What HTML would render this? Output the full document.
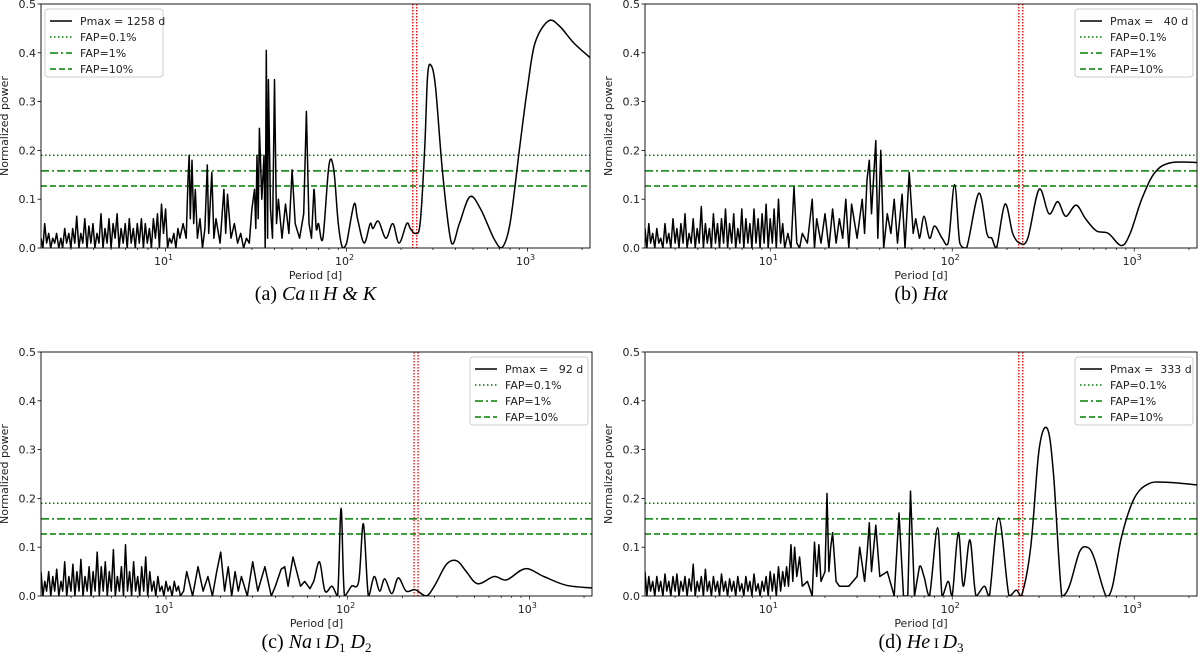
<!DOCTYPE html>
<html><head><meta charset="utf-8"><style>
body{margin:0;background:#fff;width:1200px;height:665px;overflow:hidden}
svg text{font-family:"DejaVu Sans","Liberation Sans",sans-serif}
.cap{font-family:"Liberation Serif","DejaVu Serif",serif;font-size:20px}
.leg{white-space:pre}
</style></head><body>
<svg id="fig" width="1200" height="665" xmlns="http://www.w3.org/2000/svg"></svg>
<script>
const noiseP=[2.05,2.1,2.15,2.2,2.26,2.32,2.38,2.44,2.5,2.57,2.64,2.7,2.77,2.84,2.92,3.0,3.07,3.15,3.23,3.32,3.4,3.49,3.58,3.68,3.77,3.87,3.97,4.07,4.18,4.29,4.4,4.51,4.63,4.75,4.87,5.0,5.13,5.26,5.4,5.54,5.68,5.83,5.98,6.14,6.3,6.46,6.63,6.8,6.98,7.16,7.35,7.54,7.73,7.93,8.14,8.35,8.57,8.79,9.02,9.25,9.49,9.74,10.0,10.26,10.5,10.8,11.1,11.4,11.7,12.0];
const noiseA=[0.02,0.0,0.05,0.01,0.03,0.0,0.02,0.01,0.03,0.0,0.02,0.0,0.04,0.01,0.03,0.0,0.04,0.01,0.065,0.0,0.03,0.01,0.06,0.0,0.045,0.01,0.05,0.0,0.03,0.01,0.07,0.0,0.04,0.01,0.06,0.0,0.05,0.02,0.07,0.0,0.04,0.01,0.05,0.0,0.06,0.01,0.04,0.0,0.05,0.01,0.06,0.0,0.05,0.01,0.04,0.0,0.06,0.02,0.07,0.0,0.09,0.03,0.08,0.0,0.02,0.01,0.03,0.0,0.04,0.02];
const noiseB=[0.04,0.0,0.05,0.01,0.03,0.0,0.04,0.01,0.02,0.0,0.05,0.01,0.03,0.0,0.06,0.01,0.04,0.0,0.05,0.01,0.07,0.0,0.03,0.01,0.06,0.0,0.04,0.01,0.085,0.0,0.05,0.01,0.04,0.0,0.07,0.01,0.05,0.0,0.06,0.01,0.08,0.0,0.05,0.01,0.07,0.0,0.04,0.01,0.08,0.0,0.06,0.01,0.05,0.0,0.08,0.01,0.06,0.0,0.07,0.01,0.09,0.0,0.06,0.01,0.08,0.0,0.1,0.01,0.05,0.0];
const noiseC=[0.05,0.0,0.03,0.01,0.05,0.0,0.04,0.01,0.055,0.0,0.03,0.01,0.07,0.0,0.04,0.01,0.065,0.0,0.05,0.01,0.075,0.0,0.04,0.01,0.06,0.0,0.05,0.01,0.09,0.0,0.06,0.01,0.07,0.0,0.05,0.01,0.095,0.0,0.04,0.01,0.06,0.0,0.105,0.01,0.05,0.0,0.07,0.01,0.04,0.0,0.06,0.01,0.08,0.0,0.05,0.01,0.03,0.0,0.04,0.01,0.02,0.0,0.03,0.01,0.02,0.0,0.03,0.01,0.02,0.0];
const noiseD=[0.05,0.0,0.04,0.01,0.03,0.0,0.04,0.01,0.03,0.0,0.045,0.01,0.03,0.0,0.04,0.01,0.045,0.0,0.03,0.01,0.04,0.0,0.035,0.01,0.065,0.0,0.03,0.01,0.04,0.0,0.055,0.01,0.03,0.0,0.04,0.01,0.03,0.0,0.045,0.01,0.03,0.0,0.035,0.01,0.03,0.0,0.04,0.01,0.025,0.0,0.04,0.01,0.03,0.0,0.045,0.01,0.025,0.0,0.03,0.01,0.04,0.0,0.05,0.01,0.045,0.0,0.06,0.01,0.05,0.02];
const tailA=[[12.5,0.05],[13,0.02],[13.3,0.14],[13.5,0.19],[13.7,0.06],[14,0.18],[14.3,0.05],[14.6,0.12],[15,0.02],[15.5,0.06],[16,0.0],[16.5,0.04],[17,0.17],[17.3,0.03],[18,0.155],[18.5,0.02],[19,0.06],[20,0.01],[21,0.12],[21.5,0.03],[22,0.11],[23,0.02],[24,0.05],[25,0.01],[26,0.03],[27,0.0],[28,0.02],[29,0.01],[30,0.08],[31,0.12],[31.5,0.04],[32,0.19],[32.5,0.06],[33,0.245],[34,0.1],[35,0.19],[35.5,0.0],[36,0.405],[36.6,0.02],[37,0.345],[38,0.08],[39,0.02],[40,0.345],[41,0.05],[42,0.1],[44,0.02],[46,0.09],[48,0.03],[50,0.16],[52,0.05],[55,0.02],[58,0.07],[60,0.28],[62,0.05],[64,0.02],[66,0.12],[68,0.04],[70,0.05],[74,0.02],[80,0.17],[85,0.16],[90,0.05],[95,0.0],[100,0.01],[110,0.09],[115,0.06],[125,0.01],[135,0.05],[140,0.04],[150,0.055],[165,0.02],[180,0.05],[195,0.01],[215,0.05],[225,0.04],[240,0.03],[255,0.05],[270,0.2],[280,0.35],[292,0.375],[310,0.33],[340,0.15],[380,0.01],[420,0.05],[480,0.105],[550,0.08],[650,0.02],[720,0.0],[800,0.05],[900,0.2],[1000,0.33],[1100,0.42],[1300,0.465],[1500,0.455],[1800,0.42],[2300,0.385]];
const tailB=[[12.5,0.03],[13,0.0],[13.5,0.125],[14,0.01],[14.5,0.0],[15,0.03],[16,0.01],[17,0.1],[17.5,0.0],[18,0.06],[19,0.01],[20,0.07],[21,0.0],[22,0.08],[23,0.01],[24,0.06],[25,0.02],[26,0.1],[27,0.0],[28,0.09],[30,0.02],[32,0.1],[33,0.03],[34,0.14],[35,0.18],[36,0.07],[38,0.22],[39,0.02],[40.5,0.2],[42,0.0],[44,0.07],[46,0.03],[48,0.1],[50,0.01],[53,0.11],[55,0.0],[58,0.155],[61,0.03],[63,0.06],[66,0.02],[70,0.065],[75,0.02],[80,0.045],[88,0.02],[95,0.01],[103,0.13],[110,0.01],[120,0.0],[140,0.112],[155,0.03],[165,0.02],[175,0.0],[195,0.09],[215,0.03],[235,0.01],[260,0.02],[300,0.12],[340,0.07],[380,0.095],[420,0.065],[480,0.088],[540,0.06],[620,0.035],[720,0.03],[850,0.005],[950,0.03],[1100,0.1],[1300,0.155],[1600,0.175],[2300,0.175]];
const tailC=[[12.5,0.01],[13,0.05],[14,0.0],[15,0.06],[16,0.01],[17,0.04],[18,0.0],[19,0.05],[20,0.09],[21,0.01],[22,0.06],[23,0.0],[24,0.05],[25,0.01],[26,0.04],[28,0.0],[30,0.07],[32,0.01],[35,0.06],[38,0.0],[40,0.02],[43,0.055],[45,0.06],[47,0.02],[50,0.08],[55,0.02],[58,0.03],[62,0.015],[65,0.03],[70,0.07],[75,0.01],[82,0.02],[88,0.0],[92,0.18],[96,0.0],[105,0.02],[115,0.03],[122,0.148],[130,0.0],[140,0.04],[150,0.01],[160,0.035],[175,0.005],[190,0.037],[210,0.01],[235,0.013],[270,0.0],[300,0.02],[350,0.065],[400,0.072],[450,0.05],[520,0.025],[640,0.04],[750,0.033],[950,0.056],[1200,0.04],[1600,0.022],[2300,0.016]];
const tailD=[[12.3,0.06],[12.6,0.02],[13,0.105],[13.3,0.03],[13.6,0.1],[14,0.04],[14.5,0.08],[15,0.02],[16,0.03],[17,0.0],[17.5,0.11],[18,0.04],[18.5,0.105],[19,0.03],[20,0.05],[20.5,0.21],[21,0.05],[21.5,0.1],[22,0.13],[23,0.03],[24,0.02],[27,0.02],[30,0.04],[31,0.1],[33,0.03],[34,0.085],[35,0.15],[36,0.05],[38,0.145],[40,0.04],[44,0.05],[48,0.0],[51,0.17],[54,0.0],[57,0.0],[59,0.215],[62,0.0],[66,0.06],[70,0.04],[75,0.0],[83,0.14],[88,0.0],[95,0.03],[100,0.0],[108,0.13],[115,0.02],[125,0.115],[135,0.0],[150,0.02],[160,0.0],[180,0.16],[205,0.0],[225,0.012],[240,0.0],[270,0.1],[300,0.3],[333,0.343],[360,0.25],[400,0.0],[440,0.02],[500,0.09],[550,0.1],[600,0.08],[700,0.0],[760,0.02],[850,0.12],[1000,0.2],[1200,0.23],[1500,0.233],[2300,0.227]];
const faps=[0.19,0.158,0.127];
const redLines=[232,244];
const yTicks=[0,0.1,0.2,0.3,0.4,0.5];
const pmax=["Pmax = 1258 d","Pmax =   40 d","Pmax =   92 d","Pmax =  333 d"];

const NS="http://www.w3.org/2000/svg";
const fig=document.getElementById('fig');
function mk(tag,attrs,parent){const e=document.createElementNS(NS,tag);for(const k in attrs)e.setAttribute(k,attrs[k]);(parent||fig).appendChild(e);return e;}
const LMIN=Math.log10(2.05),LMAX=3.345;
const panels=[
 {id:'a',L:41,R:590,T:4,B:248,noise:noiseA,tail:tailA,legLeft:true,cap:['(a) ','Ca',' II ','H & K']},
 {id:'b',L:645,R:1197,T:4,B:248,noise:noiseB,tail:tailB,legLeft:false,cap:['(b) ','Hα','','']},
 {id:'c',L:41,R:592,T:352,B:596,noise:noiseC,tail:tailC,legLeft:false,cap:['(c) ','Na',' I ','D','1',' D','2']},
 {id:'d',L:645,R:1197,T:352,B:596,noise:noiseD,tail:tailD,legLeft:false,cap:['(d) ','He',' I ','D','3']}
];
panels.forEach((p,i)=>{
 const g=mk('g',{});
 
 
 const xs=v=>p.L+(Math.log10(v)-LMIN)/(LMAX-LMIN)*(p.R-p.L);
 const ys=v=>p.B-v/0.5*(p.B-p.T);
 const clip=mk('clipPath',{id:'clip'+p.id},g);
 mk('rect',{x:p.L,y:p.T,width:p.R-p.L,height:p.B-p.T},clip);
 const dashes=['1.5,2.5','8,3,2,3','6,3'];
 faps.forEach((f,j)=>{const l=mk('line',{x1:p.L,x2:p.R,y1:ys(f),y2:ys(f),stroke:'#008000','stroke-width':1.5,'stroke-dasharray':dashes[j]},g);
  
  });
 redLines.forEach(r=>{const l=mk('line',{x1:xs(r),x2:xs(r),y1:p.T,y2:p.B,stroke:'#ff0000','stroke-width':1.3,'stroke-dasharray':'1.5,1.5'},g);
  
  });
 const pts=[];
 for(let k=0;k<Math.min(noiseP.length,p.noise.length);k++)pts.push([noiseP[k],p.noise[k]]);
 p.tail.forEach(t=>pts.push(t));
 const P=pts.map(q=>[xs(q[0]),ys(q[1]),q[0]]);
 let d='M'+P[0][0].toFixed(1)+','+P[0][1].toFixed(1);
 for(let k=1;k<P.length;k++){
  const a=P[k-1],b=P[k];
  if(a[2]>=65&&b[2]>=65){
   const p0=P[k-2]||a,p3=P[k+1]||b;
   const c1x=a[0]+(b[0]-p0[0])/6,c1y=Math.min(p.B,a[1]+(b[1]-p0[1])/6);
   const c2x=b[0]-(p3[0]-a[0])/6,c2y=Math.min(p.B,b[1]-(p3[1]-a[1])/6);
   d+='C'+c1x.toFixed(1)+','+c1y.toFixed(1)+' '+c2x.toFixed(1)+','+c2y.toFixed(1)+' '+b[0].toFixed(1)+','+b[1].toFixed(1);
  } else d+='L'+b[0].toFixed(1)+','+b[1].toFixed(1);
 }
 const path=mk('path',{d:d,fill:'none',stroke:'#000','stroke-width':1.5,'stroke-linejoin':'round','clip-path':'url(#clip'+p.id+')'},g);
 
 
 mk('rect',{x:p.L,y:p.T,width:p.R-p.L,height:p.B-p.T,fill:'none',stroke:'#000','stroke-width':0.9},g);
 yTicks.forEach(t=>{mk('line',{x1:p.L-3.5,x2:p.L,y1:ys(t),y2:ys(t),stroke:'#000','stroke-width':0.8},g);
  const tx=mk('text',{x:p.L-5,y:ys(t)+4,'font-size':11,'text-anchor':'end',fill:'#222'},g);tx.textContent=t.toFixed(1);
  
  });
 for(let e=0;e<=3;e++){for(let m=1;m<10;m++){const v=m*Math.pow(10,e);if(v<2.05||Math.log10(v)>LMAX)continue;
  const X=xs(v);mk('line',{x1:X,x2:X,y1:p.B,y2:p.B+(m==1?3.5:2),stroke:'#000','stroke-width':0.7},g);
  if(m==1&&e>0){const tx=mk('text',{x:X-2,y:p.B+17,'font-size':11,'text-anchor':'middle',fill:'#222'},g);
   tx.innerHTML='10<tspan dy="-5" font-size="8">'+e+'</tspan>';
   
   }}}
 const xl=mk('text',{x:(p.L+p.R)/2,y:p.B+31,'font-size':11,'text-anchor':'middle',fill:'#222'},g);xl.textContent='Period [d]';
 
 
 const yx=p.L-33, yy=(p.T+p.B)/2;
 const yl=mk('text',{x:yx,y:yy,'font-size':11,'text-anchor':'middle',fill:'#222',transform:'rotate(-90 '+yx+' '+yy+')'},g);yl.textContent='Normalized power';
 
 
 const lw=118, lx=p.legLeft?p.L+4:p.R-lw-4, ly=p.T+5;
 const lg=mk('g',{},g);
 
 
 mk('rect',{x:lx,y:ly,width:lw,height:68,rx:3,fill:'#fff',stroke:'#ccc','stroke-width':1},lg);
 const labs=[pmax[i],'FAP=0.1%','FAP=1%','FAP=10%'];
 const sty=[['#000',''],['#008000','1.5,2.5'],['#008000','8,3,2,3'],['#008000','6,3']];
 labs.forEach((s,j)=>{const yy2=ly+12+j*16;
  const l=mk('line',{x1:lx+5,x2:lx+27,y1:yy2,y2:yy2,stroke:sty[j][0],'stroke-width':1.5},lg);
  if(sty[j][1])l.setAttribute('stroke-dasharray',sty[j][1]);
  const t=mk('text',{x:lx+35,y:yy2+4,'font-size':11,fill:'#222',class:'leg'},lg);t.textContent=s;
  
  });
 const c=mk('text',{x:(p.L+p.R)/2,y:p.B+52,'text-anchor':'middle',class:'cap',fill:'#000'},g);
 let h=p.cap[0]+'<tspan font-style="italic">'+p.cap[1]+'</tspan><tspan font-size="15">'+p.cap[2]+'</tspan>';
 if(p.cap.length===4) h+='<tspan font-style="italic">'+p.cap[3]+'</tspan>';
 else { h+='<tspan font-style="italic">'+p.cap[3]+'</tspan><tspan font-size="13" dy="4">'+p.cap[4]+'</tspan>';
  if(p.cap.length>5) h+='<tspan font-style="italic" dy="-4">'+p.cap[5]+'</tspan><tspan font-size="13" dy="4">'+p.cap[6]+'</tspan>'; }
 c.innerHTML=h;
 
 
});
</script>
</body></html>
